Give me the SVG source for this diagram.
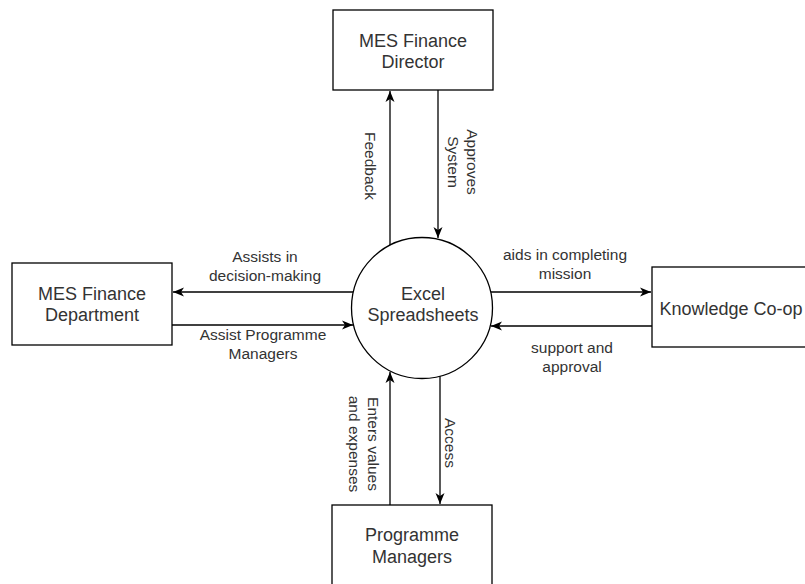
<svg xmlns="http://www.w3.org/2000/svg" width="805" height="584" viewBox="0 0 805 584">
<style>
.box{fill:#fff;stroke:#000;stroke-width:1.3}
.node{font-family:"Liberation Sans",Arial,sans-serif;font-size:18px;fill:#333;text-anchor:middle}
.lbl{font-family:"Liberation Sans",Arial,sans-serif;font-size:15.5px;fill:#333;text-anchor:middle}
.edge{stroke:#000;stroke-width:1.3;fill:none;marker-end:url(#arr)}
</style>
<defs>
<marker id="arr" markerUnits="userSpaceOnUse" markerWidth="12" markerHeight="10" viewBox="0 0 12 10" refX="11" refY="5" orient="auto">
<path d="M0,0.5 L11,5 L0,9.5 L3,5 Z" fill="#000"/>
</marker>
</defs>
<rect width="805" height="584" fill="#fff"/>
<g id="connectors">
<line class="edge" x1="390" y1="245" x2="390" y2="91"/>
<line class="edge" x1="438" y1="90" x2="438" y2="238"/>
<line class="edge" x1="353" y1="292" x2="173" y2="292"/>
<line class="edge" x1="172" y1="325" x2="353" y2="325"/>
<line class="edge" x1="491" y1="292" x2="651" y2="292"/>
<line class="edge" x1="652" y1="326" x2="491" y2="326"/>
<line class="edge" x1="390" y1="505" x2="390" y2="372"/>
<line class="edge" x1="440" y1="376" x2="440" y2="504"/>
</g>
<g id="labels">
<text class="lbl" transform="translate(370,166) rotate(90)" y="5">Feedback</text>
<text class="lbl" transform="translate(462,162) rotate(90)" y="-5">Approves<tspan x="0" dy="19">System</tspan></text>
<text class="lbl" x="265" y="262">Assists in<tspan x="265" dy="19">decision-making</tspan></text>
<text class="lbl" x="263" y="340">Assist Programme<tspan x="263" dy="19">Managers</tspan></text>
<text class="lbl" x="565" y="260">aids in completing<tspan x="565" dy="19">mission</tspan></text>
<text class="lbl" x="572" y="353">support and<tspan x="572" dy="19">approval</tspan></text>
<text class="lbl" transform="translate(363,444) rotate(90)" y="-5">Enters values<tspan x="0" dy="19">and expenses</tspan></text>
<text class="lbl" transform="translate(450,443) rotate(90)" y="5">Access</text>
</g>
<g id="director">
<rect class="box" x="333" y="10" width="160" height="80"/>
<text class="node" x="413" y="47">MES Finance<tspan x="413" dy="21">Director</tspan></text>
</g>
<g id="department">
<rect class="box" x="12" y="263" width="160" height="82"/>
<text class="node" x="92" y="300">MES Finance<tspan x="92" dy="21">Department</tspan></text>
</g>
<g id="spreadsheets">
<circle class="box" cx="422" cy="308" r="70.5"/>
<text class="node" x="423" y="300">Excel<tspan x="423" dy="21">Spreadsheets</tspan></text>
</g>
<g id="coop">
<rect class="box" x="652" y="267" width="160" height="80"/>
<text class="node" x="731" y="315">Knowledge Co-op</text>
</g>
<g id="managers">
<rect class="box" x="332" y="505" width="160" height="82"/>
<text class="node" x="412" y="541">Programme<tspan x="412" dy="22">Managers</tspan></text>
</g>
</svg>
